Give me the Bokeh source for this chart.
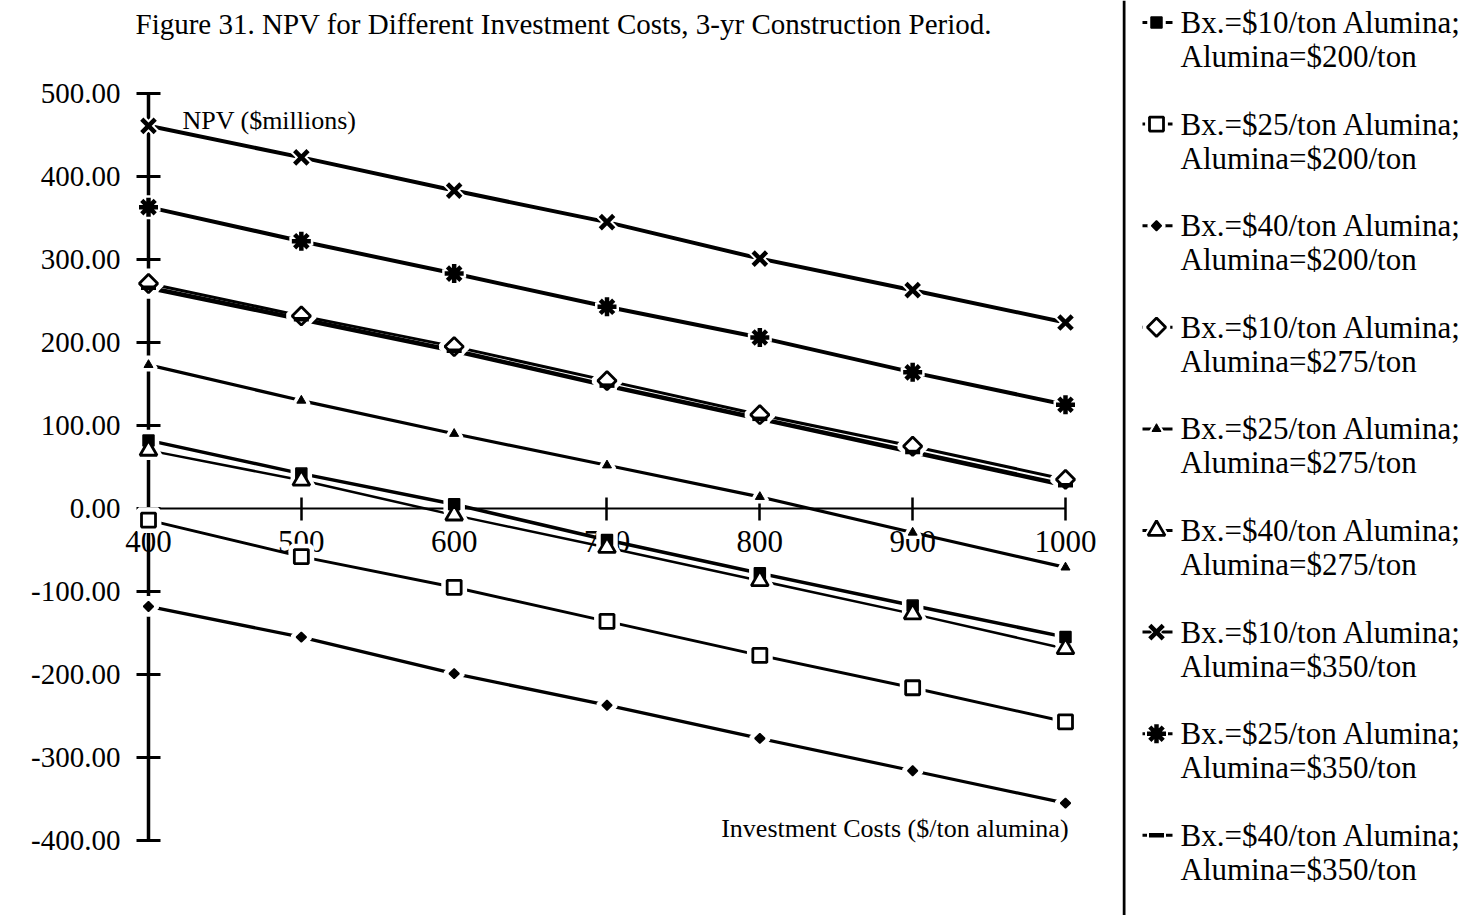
from bokeh.plotting import figure
from bokeh.layouts import row
from bokeh.models import (Range1d, LinearAxis, FixedTicker, NumeralTickFormatter,
                          Label, Span)
from bokeh.core.properties import value
from bokeh.embed import file_html
from bokeh.resources import INLINE

# Investment cost per ton of alumina capacity
invest = [400, 500, 600, 700, 800, 900, 1000]

# NPV ($ millions) for each bauxite cost / alumina price case
npv_bx10_al200 = [82, 42, 5, -38, -78, -117, -155]
npv_bx25_al200 = [-14, -58, -95, -136, -177, -216, -257]
npv_bx40_al200 = [-118, -155, -199, -237, -277, -316, -355]
npv_bx10_al275 = [271, 232, 195, 154, 113, 75, 35]
npv_bx25_al275 = [173, 130, 90, 52, 14, -29, -71]
npv_bx40_al275 = [70, 34, -8, -47, -87, -127, -169]
npv_bx10_al350 = [461, 423, 383, 345, 301, 263, 224]
npv_bx25_al350 = [363, 322, 283, 243, 206, 164, 125]
npv_bx40_al350 = [266, 228, 190, 148, 108, 68, 28]

series_labels = [
    ("Bx.=$10/ton Alumina;", "Alumina=$200/ton"),
    ("Bx.=$25/ton Alumina;", "Alumina=$200/ton"),
    ("Bx.=$40/ton Alumina;", "Alumina=$200/ton"),
    ("Bx.=$10/ton Alumina;", "Alumina=$275/ton"),
    ("Bx.=$25/ton Alumina;", "Alumina=$275/ton"),
    ("Bx.=$40/ton Alumina;", "Alumina=$275/ton"),
    ("Bx.=$10/ton Alumina;", "Alumina=$350/ton"),
    ("Bx.=$25/ton Alumina;", "Alumina=$350/ton"),
    ("Bx.=$40/ton Alumina;", "Alumina=$350/ton"),
]
series_values = [npv_bx10_al200, npv_bx25_al200, npv_bx40_al200,
                 npv_bx10_al275, npv_bx25_al275, npv_bx40_al275,
                 npv_bx10_al350, npv_bx25_al350, npv_bx40_al350]

y_ticks = [-400, -300, -200, -100, 0, 100, 200, 300, 400, 500]
x_ticks = [400, 500, 600, 700, 800, 900, 1000]

TITLE = "Figure 31. NPV for Different Investment Costs, 3-yr Construction Period."
Y_TITLE = "NPV ($millions)"
X_TITLE = "Investment Costs ($/ton alumina)"

# marker styling per series: (marker, size, fill, marker line width, angle, series line width)
styles = [
    ("square", 11, "black", 1.5, 0.0, 3.5),
    ("square", 14, "white", 2.8, 0.0, 3.0),
    ("square", 7, "black", 1.5, 0.785, 3.2),
    ("square", 13, "white", 2.8, 0.785, 3.0),
    ("triangle", 9, "black", 1.0, 0.0, 3.2),
    ("triangle", 17, "white", 2.8, 0.0, 2.5),
    ("x", 19, "black", 4.5, 0.0, 4.0),
    ("asterisk", 19, "black", 4.5, 0.0, 4.0),
    ("dash", 15, "black", 4.5, 0.0, 4.5),
]

FONT = "Liberation Serif"

p = figure(width=1122, height=915, title=None,
           x_range=Range1d(303.16, 1037.3), y_range=Range1d(-490.4, 612.0),
           x_axis_type=None, y_axis_type=None, min_border=0,
           outline_line_color=None, toolbar_location=None,
           output_backend="svg")
p.background_fill_color = "white"
p.border_fill_color = "white"

# y axis crossing at x = 400
yaxis = LinearAxis(fixed_location=400, ticker=FixedTicker(ticks=y_ticks),
                   formatter=NumeralTickFormatter(format="0.00"),
                   bounds=(-400, 500))
yaxis.axis_line_width = 3.5
yaxis.major_tick_line_width = 3
yaxis.major_tick_in = 12
yaxis.major_tick_out = 12
yaxis.minor_tick_line_color = None
yaxis.major_label_text_font = FONT
yaxis.major_label_text_font_size = "29px"
yaxis.major_label_text_color = "black"
yaxis.major_label_standoff = 16
yaxis.level = "underlay"
p.add_layout(yaxis, "left")

# x axis along NPV = 0
xaxis = LinearAxis(fixed_location=0, ticker=FixedTicker(ticks=x_ticks),
                   bounds=(400, 1000))
xaxis.axis_line_width = 2
xaxis.major_tick_line_width = 2.5
xaxis.major_tick_in = 11
xaxis.major_tick_out = 12
xaxis.minor_tick_line_color = None
xaxis.major_label_text_font = FONT
xaxis.major_label_text_font_size = "31px"
xaxis.major_label_text_color = "black"
xaxis.major_label_standoff = 11
xaxis.level = "underlay"
p.add_layout(xaxis, "below")

# series lines
for vals, st in zip(series_values, styles):
    p.line(invest, vals, line_color="black", line_width=st[5])

# white halos that break the lines around each marker
for vals, st in zip(series_values, styles):
    marker, size, fill, lw, ang, _ = st
    p.scatter(invest, vals, marker=marker, size=size + 5, angle=ang,
              fill_color="white", line_color="white", line_width=lw + 4)

# markers
for vals, st in zip(series_values, styles):
    marker, size, fill, lw, ang, _ = st
    p.scatter(invest, vals, marker=marker, size=size, angle=ang,
              fill_color=fill, line_color="black", line_width=lw)

p.add_layout(Label(x=391.5, y=584, text=TITLE, text_font=FONT,
                   text_font_size="29px", text_baseline="alphabetic",
                   text_color="black"))
p.add_layout(Label(x=422.2, y=467.4, text=Y_TITLE, text_font=FONT,
                   text_font_size="26px", text_baseline="alphabetic",
                   text_color="black"))
p.add_layout(Label(x=1002, y=-385.6, text=X_TITLE, text_font=FONT,
                   text_font_size="26px", text_baseline="alphabetic",
                   text_align="right", text_color="black"))

# legend panel, drawn in pixel-like coordinates
leg = figure(width=358, height=915, title=None,
             x_range=Range1d(0, 358), y_range=Range1d(915, 0),
             x_axis_type=None, y_axis_type=None, min_border=0,
             outline_line_color=None, toolbar_location=None,
             output_backend="svg")
leg.background_fill_color = "white"
leg.border_fill_color = "white"
leg.add_layout(Span(location=1.5, dimension="height", line_color="black",
                    line_width=3))

row_y = [22 + i * 101.6 for i in range(len(series_labels))]
for (l1, l2), st, y in zip(series_labels, styles, row_y):
    marker, size, fill, lw, ang, slw = st
    leg.line([20, 50], [y, y], line_color="black", line_width=3)
    leg.scatter([34], [y], marker=marker, size=size + 4, angle=-ang,
                fill_color="white", line_color="white", line_width=lw + 2)
    leg.scatter([34], [y], marker=marker, size=size, angle=-ang,
                fill_color=fill, line_color="black", line_width=lw)
    leg.text(x=[58, 58], y=[y, y + 34], text=[l1, l2],
             text_font=value(FONT), text_font_size="31px",
             text_baseline="middle", text_color="black")

layout = row(p, leg)
open("out.html", "w").write(file_html(layout, INLINE))
